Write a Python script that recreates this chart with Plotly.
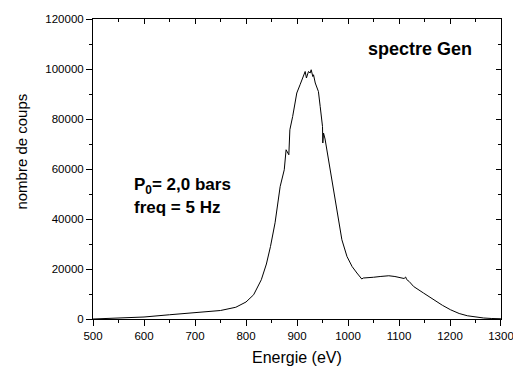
import plotly.graph_objects as go

energy = [500, 550, 600, 650, 700, 750, 780, 800, 815, 830, 840, 848, 857, 867, 875,
          878.6, 884, 884.5, 886, 891.5, 894.5, 899.6, 906, 912.6, 916, 918.5, 922.5,
          925.8, 927.8, 931, 932.4, 935.8, 939, 942, 945.5, 948, 950, 950.6, 952, 955,
          958.5, 965, 971.5, 975, 981, 988, 998, 1008, 1017.5, 1024, 1027, 1030, 1037,
          1050, 1063, 1080, 1092, 1102.5, 1110, 1113, 1115, 1120, 1128.7, 1148, 1168,
          1185, 1201, 1218, 1234, 1250, 1266, 1282, 1300]
counts = [0, 300, 800, 1700, 2500, 3400, 4700, 6800, 9700, 15700, 22000, 29000, 38500,
          53000, 59700, 67700, 65700, 70000, 75700, 81000, 84400, 90400, 93700, 97700,
          99000, 96400, 99000, 98400, 99700, 97000, 97700, 94400, 92400, 91000, 85000,
          79000, 77000, 70400, 74400, 72000, 67700, 59700, 51700, 47700, 39700, 31700,
          25000, 21000, 18400, 17000, 16000, 16400, 16400, 16700, 17000, 17300, 17000,
          16400, 16200, 16800, 15800, 15000, 13000, 10400, 7700, 5500, 3700, 2200, 1300,
          700, 400, 200, 100]

x_ticks = [500, 600, 700, 800, 900, 1000, 1100, 1200, 1300]
y_ticks = [0, 20000, 40000, 60000, 80000, 100000, 120000]

fig = go.Figure()
fig.add_trace(go.Scatter(x=energy, y=counts, mode="lines",
                         line=dict(color="black", width=1), showlegend=False,
                         hoverinfo="skip"))
fig.add_trace(go.Scatter(x=energy, y=counts, mode="lines", xaxis="x2", yaxis="y2",
                         line=dict(color="rgba(0,0,0,0)", width=0), showlegend=False,
                         hoverinfo="skip"))

font_family = "Liberation Sans, Arial, sans-serif"
xr = [500, 1300.01]
yr = [0, 120000.1]

fig.update_layout(
    width=513, height=367,
    margin=dict(l=93, r=12, t=19, b=48),
    paper_bgcolor="white", plot_bgcolor="white",
    font=dict(family=font_family, color="black"),
    xaxis=dict(range=xr, tickvals=x_ticks, ticktext=[str(v) for v in x_ticks],
               ticks="outside", ticklen=6, tickwidth=1, tickcolor="black",
               minor=dict(dtick=50, tick0=500, ticks="outside", ticklen=3, tickcolor="black"),
               showline=True, linecolor="black", linewidth=1, showgrid=False, zeroline=False,
               tickfont=dict(size=11.5), automargin=False, ticklabeloverflow="allow"),
    yaxis=dict(range=yr, tickvals=y_ticks, ticktext=[str(v) for v in y_ticks],
               ticks="outside", ticklen=6, tickwidth=1, tickcolor="black",
               minor=dict(dtick=10000, tick0=0, ticks="outside", ticklen=3, tickcolor="black"),
               showline=True, linecolor="black", linewidth=1, showgrid=False, zeroline=False,
               tickfont=dict(size=11.5), automargin=False, ticklabeloverflow="allow"),
    xaxis2=dict(range=xr, overlaying="x", side="top", tickvals=x_ticks,
                showticklabels=False, ticks="inside", ticklen=5, tickcolor="black",
                minor=dict(dtick=50, tick0=500, ticks="inside", ticklen=3, tickcolor="black"),
                showline=True, linecolor="black", linewidth=1, showgrid=False, zeroline=False,
                automargin=False),
    yaxis2=dict(range=yr, overlaying="y", side="right", tickvals=y_ticks,
                showticklabels=False, ticks="inside", ticklen=5, tickcolor="black",
                minor=dict(dtick=10000, tick0=0, ticks="inside", ticklen=3, tickcolor="black"),
                showline=True, linecolor="black", linewidth=1, showgrid=False, zeroline=False,
                automargin=False),
    annotations=[
        dict(x=0.5, y=-0.127, xref="paper", yref="paper", xanchor="center", yanchor="middle",
             text="Energie (eV)", showarrow=False, font=dict(size=16, family=font_family)),
        dict(x=-0.174, y=0.558, xref="paper", yref="paper", xanchor="center", yanchor="middle",
             text="nombre de coups", textangle=-90, showarrow=False,
             font=dict(size=15, family=font_family)),
        dict(x=1142, y=108100, xref="x", yref="y", text="<b>spectre Gen</b>",
             showarrow=False, font=dict(size=18, family=font_family)),
        dict(x=576, y=53300, xref="x", yref="y", xanchor="left",
             text="<b>P<sub>0</sub>= 2,0 bars</b>",
             showarrow=False, font=dict(size=17, family=font_family)),
        dict(x=576, y=44500, xref="x", yref="y", xanchor="left",
             text="<b>freq = 5 Hz</b>",
             showarrow=False, font=dict(size=17, family=font_family)),
    ],
)

fig.write_html("out.html", config={"displayModeBar": False},
               post_script="document.body.style.margin='0';document.body.style.overflow='hidden';")
